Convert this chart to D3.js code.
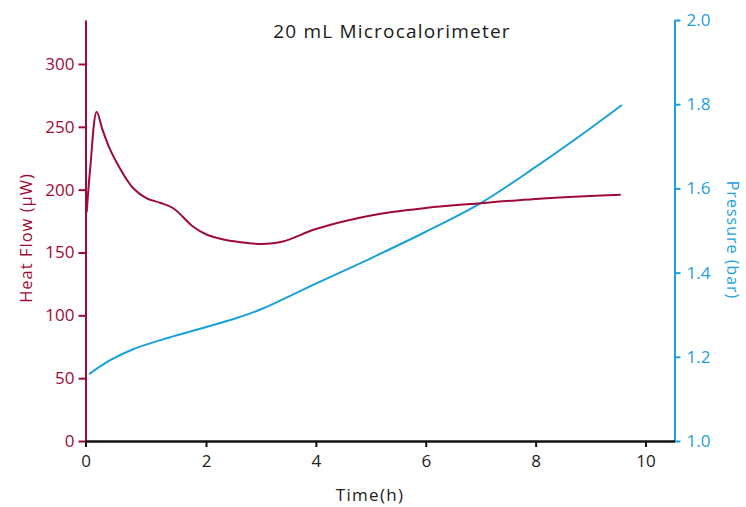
<!DOCTYPE html>
<html>
<head>
<meta charset="utf-8">
<script src="https://cdn.jsdelivr.net/npm/d3@7"></script>
<style>
  html, body { margin: 0; padding: 0; background: #fff; }
  svg { display: block; font-family: "Open Sans", sans-serif; }
</style>
</head>
<body>
<svg id="chart" width="746" height="507"></svg>
<script>
// ---- data ----
const title = "20 mL Microcalorimeter";
const xTicks = [0, 2, 4, 6, 8, 10];
const leftTicks = [0, 50, 100, 150, 200, 250, 300];
const rightTicks = [1.0, 1.2, 1.4, 1.6, 1.8, 2.0];

const heatTime = [0.02, 0.08, 0.186, 0.28, 0.407, 0.573, 0.793, 1.016, 1.237, 1.457, 1.789, 2.0, 2.3, 2.6, 3.0, 3.4, 4.0, 5.0, 6.0, 7.0, 8.0, 9.0, 9.55];
const heatFlow = [182, 218, 262, 248, 232, 216.8, 201.1, 193.1, 189.6, 185.2, 170.5, 164.5, 160.5, 158.3, 156.8, 158.7, 168.7, 179.5, 185.4, 189.2, 192.6, 195, 196];

const presTime = [0.06, 0.41, 0.79, 1.3, 1.89, 2.6, 3.0, 4.0, 5.0, 6.0, 7.0, 8.0, 9.0, 9.57];
const pressure = [1.159, 1.192, 1.218, 1.242, 1.266, 1.294, 1.313, 1.374, 1.434, 1.497, 1.565, 1.651, 1.743, 1.798];

// ---- styles ----
const RED = "#9e0b38";
const BLUE = "#1aa0dc";
const FONT = "'Open Sans', sans-serif";

const svg = d3.select("#chart");

const x = d3.scaleLinear().domain([0, 2, 10, 10.53]).range([85.5, 206, 645.5, 674.5]);
const yL = d3.scaleLinear().domain([0, 335]).range([441, 20]);
const yR = d3.scaleLinear().domain([1, 2]).range([441, 20]);

// title
svg.append("text")
  .attr("x", 392).attr("y", 38)
  .attr("text-anchor", "middle")
  .attr("font-size", 19)
  .attr("letter-spacing", 1.2)
  .attr("fill", "#1a1a1a")
  .text(title);

// left axis
const gL = svg.append("g").attr("transform", "translate(85.5,0)")
  .call(d3.axisLeft(yL).tickValues(leftTicks).tickSize(7).tickPadding(4).tickSizeOuter(0));
gL.select(".domain").attr("stroke", RED).attr("stroke-width", 2);
gL.selectAll(".tick line").attr("stroke", RED).attr("stroke-width", 2);
gL.selectAll(".tick text").attr("fill", RED).attr("font-size", 17).attr("font-family", FONT);

// right axis
const gR = svg.append("g").attr("transform", "translate(674.5,0)")
  .call(d3.axisRight(yR).tickValues(rightTicks).tickFormat(d3.format(".1f")).tickSize(6).tickPadding(6).tickSizeOuter(0));
gR.select(".domain").attr("stroke", BLUE).attr("stroke-width", 2);
gR.selectAll(".tick line").attr("stroke", BLUE).attr("stroke-width", 2);
gR.selectAll(".tick text").attr("fill", BLUE).attr("font-size", 17).attr("font-family", FONT);

// bottom axis
const gX = svg.append("g").attr("transform", "translate(0,441)")
  .call(d3.axisBottom(x).tickValues(xTicks).tickSize(6).tickPadding(8).tickSizeOuter(0));
gX.select(".domain").attr("stroke", "#111").attr("stroke-width", 2.5);
gX.selectAll(".tick line").attr("stroke", "#111").attr("stroke-width", 2);
gX.selectAll(".tick text").attr("fill", "#222").attr("font-size", 17).attr("font-family", FONT);

// axis titles
svg.append("text")
  .attr("transform", "translate(31.5,238) rotate(-90)")
  .attr("text-anchor", "middle")
  .attr("font-size", 16.5)
  .attr("letter-spacing", 1)
  .attr("fill", RED)
  .text("Heat Flow (µW)");

svg.append("text")
  .attr("transform", "translate(727,240) rotate(90)")
  .attr("text-anchor", "middle")
  .attr("font-size", 16)
  .attr("letter-spacing", 1)
  .attr("fill", BLUE)
  .text("Pressure (bar)");

svg.append("text")
  .attr("x", 370).attr("y", 501)
  .attr("text-anchor", "middle")
  .attr("font-size", 17)
  .attr("letter-spacing", 1.3)
  .attr("fill", "#222")
  .text("Time(h)");

// lines
const heatData = heatTime.map((t, i) => [t, heatFlow[i]]);
const presData = presTime.map((t, i) => [t, pressure[i]]);

svg.append("path")
  .datum(presData)
  .attr("fill", "none")
  .attr("stroke", BLUE)
  .attr("stroke-width", 2)
  .attr("d", d3.line().x(d => x(d[0])).y(d => yR(d[1])).curve(d3.curveCatmullRom.alpha(0.5)));

svg.append("path")
  .datum(heatData)
  .attr("fill", "none")
  .attr("stroke", RED)
  .attr("stroke-width", 2)
  .attr("d", d3.line().x(d => x(d[0])).y(d => yL(d[1])).curve(d3.curveCatmullRom.alpha(0.5)));
</script>
</body>
</html>
